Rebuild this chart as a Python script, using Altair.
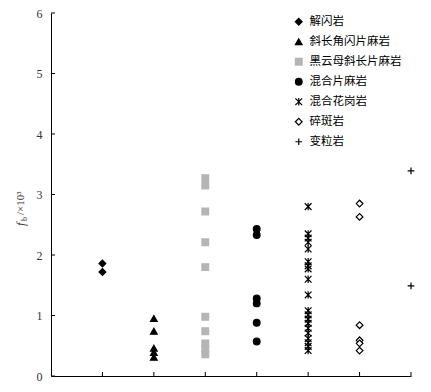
import altair as alt
import pandas as pd

rocks = ["解闪岩", "斜长角闪片麻岩", "黑云母斜长片麻岩", "混合片麻岩", "混合花岗岩", "碎斑岩", "变粒岩"]
positions = [1, 2, 3, 4, 5, 6, 7]
v_jieshan = [1.86, 1.72]
v_xiechang = [0.95, 0.74, 0.46, 0.39, 0.31]
v_heiyunmu = [3.27, 3.15, 2.72, 2.21, 1.80, 0.98, 0.74, 0.54, 0.45, 0.36]
v_hunhe_pian = [2.43, 2.33, 1.28, 1.20, 0.88, 0.57]
v_hunhe_hua = [2.80, 2.35, 2.28, 2.21, 2.10, 1.89, 1.82, 1.77, 1.60, 1.34,
               1.08, 1.01, 0.94, 0.87, 0.79, 0.71, 0.62, 0.55, 0.49, 0.42]
v_suiban = [2.85, 2.63, 0.84, 0.59, 0.54, 0.42]
v_bianli = [3.39, 1.49]
y_ticks = [0, 1, 2, 3, 4, 5, 6]

series = [v_jieshan, v_xiechang, v_heiyunmu, v_hunhe_pian, v_hunhe_hua, v_suiban, v_bianli]
rows = []
for name, pos, vals in zip(rocks, positions, series):
    for v in vals:
        rows.append({"rock": name, "pos": pos, "val": v})
df = pd.DataFrame(rows)

W, H = 360, 363

shapes = [
    "diamond",
    "triangle-up",
    "square",
    "circle",
    "M-1,-1L1,1M-1,1L1,-1M0,-1.1L0,1.1",
    "diamond",
    "M-1,0L1,0M0,-1L0,1",
]
fills = ["black", "black", "#b5b5b5", "black", "transparent", "white", "transparent"]
strokes = ["black", "black", "#b5b5b5", "black", "black", "black", "black"]

xs = alt.Scale(domain=[0, 7], nice=False, zero=False)
ys = alt.Scale(domain=[0, 6], nice=False)

points = alt.Chart(df).mark_point(size=45, strokeWidth=1.2, opacity=1).encode(
    x=alt.X("pos:Q", scale=xs,
            axis=alt.Axis(labels=False, ticks=False, grid=False, title=None,
                          domainColor="black", domainWidth=1)),
    y=alt.Y("val:Q", scale=ys,
            axis=alt.Axis(values=y_ticks, format="d", ticks=False, grid=False, title=None,
                          labelFont="Liberation Serif", labelFontSize=12,
                          labelColor="#333", labelPadding=9,
                          domainColor="black", domainWidth=1)),
    shape=alt.Shape("rock:N", scale=alt.Scale(domain=rocks, range=shapes),
                    legend=alt.Legend(title=None, orient="none", legendX=242, legendY=3,
                                      labelFont="Noto Sans CJK SC", labelFontSize=11.5,
                                      labelColor="black", rowPadding=7, symbolSize=45,
                                      symbolStrokeWidth=1.2, labelOffset=5, padding=0)),
    fill=alt.Fill("rock:N", scale=alt.Scale(domain=rocks, range=fills)),
    stroke=alt.Stroke("rock:N", scale=alt.Scale(domain=rocks, range=strokes)),
)

ytick_df = pd.DataFrame({"t": y_ticks})
yticks = alt.Chart(ytick_df).mark_rule(color="black", strokeWidth=1).encode(
    y=alt.Y("t:Q", scale=ys), x=alt.value(0), x2=alt.value(4)
)
xtick_df = pd.DataFrame({"t": positions})
xticks = alt.Chart(xtick_df).mark_rule(color="black", strokeWidth=1).encode(
    x=alt.X("t:Q", scale=xs), y=alt.value(H), y2=alt.value(H - 4)
)

base = alt.Chart(pd.DataFrame({"a": [0]}))
t_f = base.mark_text(angle=270, align="left", baseline="middle", fontStyle="italic",
                     font="Liberation Serif", fontSize=12, color="#333").encode(
    text=alt.value("f"), x=alt.value(-30), y=alt.value(213))
t_b = base.mark_text(angle=270, align="left", baseline="middle",
                     font="Liberation Serif", fontSize=8, color="#333").encode(
    text=alt.value("b"), x=alt.value(-26), y=alt.value(208))
t_rest = base.mark_text(angle=270, align="left", baseline="middle",
                        font="Liberation Serif", fontSize=11, color="#333").encode(
    text=alt.value("/×10³"), x=alt.value(-30), y=alt.value(202))

chart = alt.layer(yticks, xticks, points, t_f, t_b, t_rest).properties(
    width=W, height=H,
    autosize=alt.AutoSizeParams(type="none"),
    padding={"left": 43, "top": 5, "right": 12, "bottom": 6},
).configure_view(stroke=None)

chart.save("out.html", embed_options={"renderer": "svg", "actions": False})
